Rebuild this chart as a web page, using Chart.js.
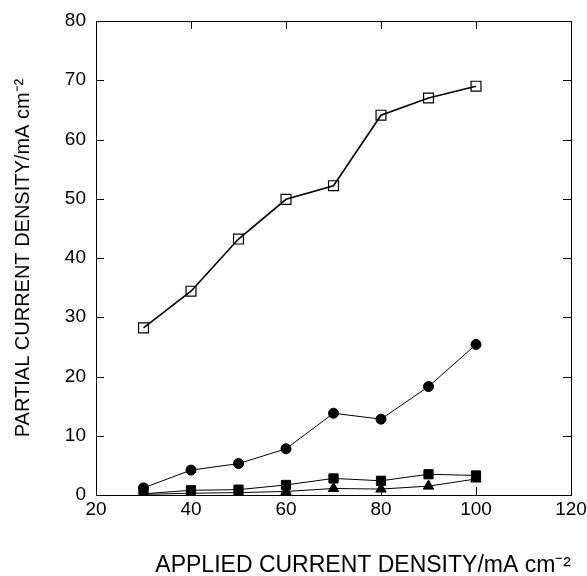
<!DOCTYPE html>
<html>
<head>
<meta charset="utf-8">
<script src="https://cdn.jsdelivr.net/npm/chart.js@4/dist/chart.umd.min.js"></script>
<style>
  html, body { margin: 0; padding: 0; background: #fff; }
  #wrap { width: 587px; height: 576px; }
</style>
</head>
<body>
<div id="wrap"><canvas id="chart"></canvas></div>
<script>
// applied current density, mA cm-2
const applied = [30, 40, 50, 60, 70, 80, 90, 100];

// partial current densities
const openSquares = [28.2, 34.4, 43.2, 49.9, 52.2, 64.1, 67.0, 69.0];
const circles = [1.2, 4.2, 5.3, 7.8, 13.8, 12.8, 18.3, 25.4];
const squares = [0.2, 0.8, 0.9, 1.7, 2.8, 2.4, 3.5, 3.3];
const triangles = [0.1, 0.3, 0.4, 0.6, 1.1, 1.0, 1.5, 2.7];

const xTicks = [20, 40, 60, 80, 100, 120];
const yTicks = [0, 10, 20, 30, 40, 50, 60, 70, 80];

const pts = (ys) => applied.map((x, i) => ({ x, y: ys[i] }));

// box round the plot and ticks pointing inwards on all four sides
const frame = {
  id: 'frame',
  afterDatasetsDraw(chart) {
    const { ctx, chartArea: a, scales } = chart;
    ctx.save();
    ctx.strokeStyle = '#000';
    ctx.lineWidth = 1;
    ctx.strokeRect(a.left + 0.5, a.top + 0.5, a.right - a.left, a.bottom - a.top);
    const len = 8;
    ctx.beginPath();
    xTicks.slice(1, -1).forEach(v => {
      const px = Math.round(scales.x.getPixelForValue(v)) + 0.5;
      ctx.moveTo(px, a.bottom); ctx.lineTo(px, a.bottom - len);
      ctx.moveTo(px, a.top); ctx.lineTo(px, a.top + len);
    });
    yTicks.slice(1, -1).forEach(v => {
      const py = Math.round(scales.y.getPixelForValue(v)) + 0.5;
      ctx.moveTo(a.left, py); ctx.lineTo(a.left + len, py);
      ctx.moveTo(a.right, py); ctx.lineTo(a.right - len, py);
    });
    ctx.stroke();
    ctx.restore();
  }
};

const family = '"Liberation Sans", Arial, sans-serif';
const tickFont = { family, size: 19 };

new Chart(document.getElementById('chart'), {
  type: 'scatter',
  data: {
    datasets: [
      {
        data: pts(openSquares),
        showLine: true,
        borderColor: '#000',
        borderWidth: 1.6,
        pointStyle: 'rect',
        pointRadius: 7,
        pointBackgroundColor: 'rgba(0,0,0,0)',
        pointBorderColor: '#000',
        pointBorderWidth: 1.2,
      },
      {
        data: pts(circles),
        showLine: true,
        borderColor: '#000',
        borderWidth: 1,
        pointStyle: 'circle',
        pointRadius: 5,
        pointBackgroundColor: '#000',
        pointBorderColor: '#000',
      },
      {
        data: pts(squares),
        showLine: true,
        borderColor: '#000',
        borderWidth: 1,
        pointStyle: 'rect',
        pointRadius: 6.5,
        pointBackgroundColor: '#000',
        pointBorderColor: '#000',
      },
      {
        data: pts(triangles),
        showLine: true,
        borderColor: '#000',
        borderWidth: 1,
        pointStyle: 'triangle',
        pointRadius: 6,
        pointBackgroundColor: '#000',
        pointBorderColor: '#000',
      },
    ],
  },
  options: {
    responsive: true,
    maintainAspectRatio: false,
    animation: false,
    layout: { padding: { top: 21, right: 16, left: 0, bottom: 0 } },
    plugins: { legend: { display: false }, tooltip: { enabled: false } },
    scales: {
      x: {
        type: 'linear',
        min: 20,
        max: 120,
        afterBuildTicks: (s) => { s.ticks = xTicks.map(v => ({ value: v })); },
        afterFit: (s) => { s.height = 81; s.paddingLeft = 0; s.paddingRight = 0; },
        grid: { display: false, drawTicks: false },
        border: { display: false },
        ticks: { color: '#000', font: tickFont, padding: 3, maxRotation: 0 },
        title: {
          display: true,
          align: 'end',
          text: 'APPLIED CURRENT DENSITY/mA cm⁻²',
          color: '#000',
          font: { family, size: 23 },
          padding: { top: 0, bottom: -3 },
        },
      },
      y: {
        type: 'linear',
        min: 0,
        max: 80,
        afterBuildTicks: (s) => { s.ticks = yTicks.map(v => ({ value: v })); },
        afterFit: (s) => { s.width = 96; s.paddingTop = 0; s.paddingBottom = 0; },
        grid: { display: false, drawTicks: false },
        border: { display: false },
        ticks: { color: '#000', font: tickFont, padding: 10 },
        title: {
          display: true,
          text: 'PARTIAL CURRENT DENSITY/mA cm⁻²',
          color: '#000',
          font: { family, size: 20 },
          padding: { top: 11, bottom: 0 },
        },
      },
    },
  },
  plugins: [frame],
});
</script>
</body>
</html>
